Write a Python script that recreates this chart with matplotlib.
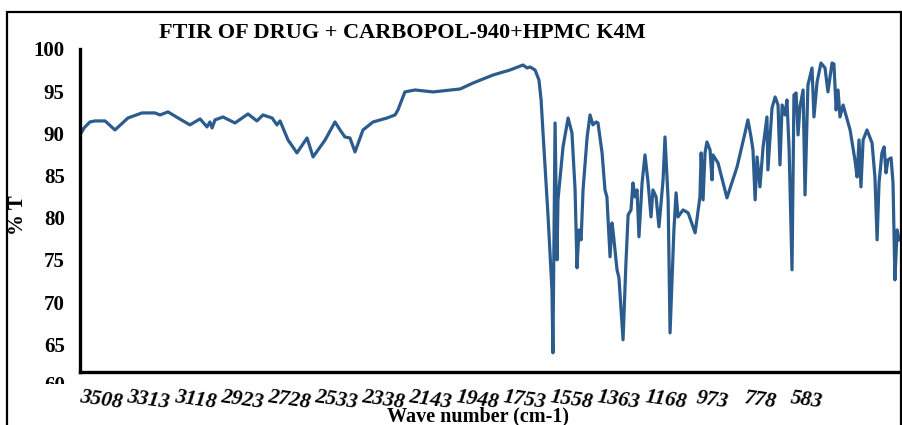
import matplotlib
matplotlib.use("Agg")
import matplotlib.pyplot as plt
from matplotlib.patches import Rectangle
from matplotlib.transforms import Bbox, TransformedBbox, offset_copy

# wavenumber (cm-1) and transmittance (%T)
wavenumber = [
    3603, 3586, 3562, 3541, 3499, 3458, 3404, 3346, 3292, 3271, 3238, 3196,
    3147, 3105, 3076, 3064, 3055, 3043, 3010, 2960, 2906, 2869, 2844, 2806,
    2786, 2773, 2740, 2703, 2661, 2636, 2586, 2545, 2524, 2504, 2483, 2462,
    2429, 2387, 2329, 2296, 2284, 2255, 2213, 2138, 2026, 1972, 1889, 1819,
    1765, 1748, 1736, 1715, 1699, 1690, 1682, 1661, 1645, 1641, 1632, 1624,
    1620, 1599, 1578, 1562, 1549, 1541, 1533, 1524, 1516, 1499, 1487, 1475,
    1462, 1454, 1437, 1425, 1417, 1404, 1396, 1392, 1375, 1367, 1350, 1338,
    1329, 1317, 1309, 1300, 1292, 1284, 1271, 1259, 1246, 1234, 1226, 1213,
    1201, 1184, 1176, 1163, 1155, 1139, 1130, 1122, 1101, 1080, 1051, 1031,
    1026, 1018, 1010, 1002, 989, 981, 977, 956, 919, 877, 844, 832,
    819, 811, 802, 794, 782, 769, 753, 749, 732, 719, 707, 699,
    690, 678, 670, 661, 649, 641, 632, 624, 616, 603, 595, 583,
    566, 558, 545, 529, 512, 500, 483, 475, 466, 458, 450, 437,
    408, 388, 379, 371, 363, 354, 338, 317, 305, 296, 288, 276,
    267, 259, 251, 238, 230, 222, 213, 205,
]
transmittance = [
    89.81, 90.64, 91.35, 91.47, 91.47, 90.40, 91.82, 92.42, 92.42, 92.18, 92.54, 91.82,
    91.00, 91.71, 90.76, 91.35, 90.64, 91.59, 91.94, 91.23, 92.30, 91.47, 92.18, 91.82,
    91.00, 91.47, 89.22, 87.68, 89.45, 87.20, 89.22, 91.35, 90.40, 89.57, 89.45, 87.80,
    90.40, 91.35, 91.82, 92.18, 92.77, 94.91, 95.14, 94.91, 95.26, 95.97, 96.92, 97.51,
    98.10, 97.75, 97.87, 97.51, 96.33, 93.96, 90.05, 80.09, 71.45, 63.98, 91.23, 75.00,
    82.11, 88.39, 91.82, 90.05, 83.29, 74.05, 78.55, 77.37, 83.29, 89.57, 92.18, 91.00,
    91.35, 91.23, 87.68, 83.29, 82.46, 75.36, 79.38, 78.55, 73.82, 72.87, 65.52, 74.64,
    80.33, 80.92, 84.12, 82.46, 83.29, 77.73, 84.12, 87.44, 84.12, 80.09, 83.29, 82.46,
    78.91, 84.48, 89.57, 82.11, 66.35, 78.55, 82.94, 80.09, 80.92, 80.57, 78.20, 82.46,
    87.68, 82.11, 87.68, 88.98, 88.03, 84.48, 87.44, 86.49, 82.35, 86.02, 90.05, 91.59,
    89.57, 88.03, 82.11, 87.20, 83.65, 88.39, 91.94, 85.66, 93.01, 94.31, 93.36, 86.26,
    93.36, 92.18, 93.96, 88.03, 73.82, 94.55, 94.79, 89.81, 93.13, 95.14, 82.70, 95.73,
    97.75, 91.94, 96.09, 98.34, 97.75, 94.91, 98.34, 98.22, 92.77, 95.14, 91.94, 93.36,
    90.40, 86.85, 84.83, 89.22, 83.65, 89.22, 90.40, 88.86, 84.83, 77.37, 84.12, 87.68,
    88.39, 85.31, 86.85, 87.09, 84.12, 72.63, 78.55, 77.37,
]

xtick_vals = [3508, 3313, 3118, 2923, 2728, 2533, 2338, 2143, 1948,
              1753, 1558, 1363, 1168, 973, 778, 583]
ytick_vals = [65, 70, 75, 80, 85, 90, 95, 100]

serif = ["Liberation Serif", "DejaVu Serif"]
line_color = "#2b5c8d"

fig = plt.figure(figsize=(9.02, 4.25), dpi=100)
ax = fig.add_axes([80 / 902, 53 / 425, 820 / 902, 323 / 425])

ax.plot(wavenumber, transmittance, color=line_color, lw=2.3,
        solid_joinstyle="round")

ax.set_xlim(3603, 201)
ax.set_ylim(61.7, 100)

for side in ("top", "right"):
    ax.spines[side].set_visible(False)
for side in ("left", "bottom"):
    ax.spines[side].set_linewidth(2.4)
    ax.spines[side].set_color("black")

ax.set_yticks(ytick_vals)
ax.set_yticklabels([str(v) for v in ytick_vals], family=serif,
                   fontweight="bold", fontsize=15)
ax.set_xticks(xtick_vals)
ax.set_xticklabels([str(v) for v in xtick_vals], family=serif,
                   fontweight="bold", fontstyle="italic", fontsize=15.5,
                   rotation=-8, rotation_mode="anchor", ha="center", va="top")
ax.tick_params(axis="y", length=0, pad=11)
ax.tick_params(axis="x", length=0, pad=13)

# the lowest tick label is cut off by the bottom of the chart area
lab60 = ax.text(0, 60, "60",
                transform=offset_copy(ax.get_yaxis_transform(), fig=fig,
                                      x=-11, y=0, units="points"),
                ha="right", va="center", family=serif, fontweight="bold",
                fontsize=15)
lab60.set_clip_box(TransformedBbox(Bbox([[0, 1 - 384 / 425], [1, 1]]),
                                   fig.transFigure))
lab60.set_clip_on(True)

fig.text(402 / 902, 1 - 33 / 425, "FTIR OF DRUG + CARBOPOL-940+HPMC K4M",
         ha="center", va="center", family=serif, fontweight="bold",
         fontsize=16)
fig.text(18 / 902, 1 - 215 / 425, "% T", rotation=90, ha="center",
         va="center", family=serif, fontweight="bold", fontsize=15)
fig.text(478 / 902, 1 - 416 / 425, "Wave number (cm-1)", ha="center",
         va="center", family=serif, fontweight="bold", fontsize=14.5)

# chart area frame
fig.patches.append(Rectangle((7 / 902, -0.1), 894 / 902, 1.1 - 12 / 425,
                             transform=fig.transFigure, fill=False,
                             edgecolor="black", lw=1.6))

fig.savefig("out.png", dpi=100)
